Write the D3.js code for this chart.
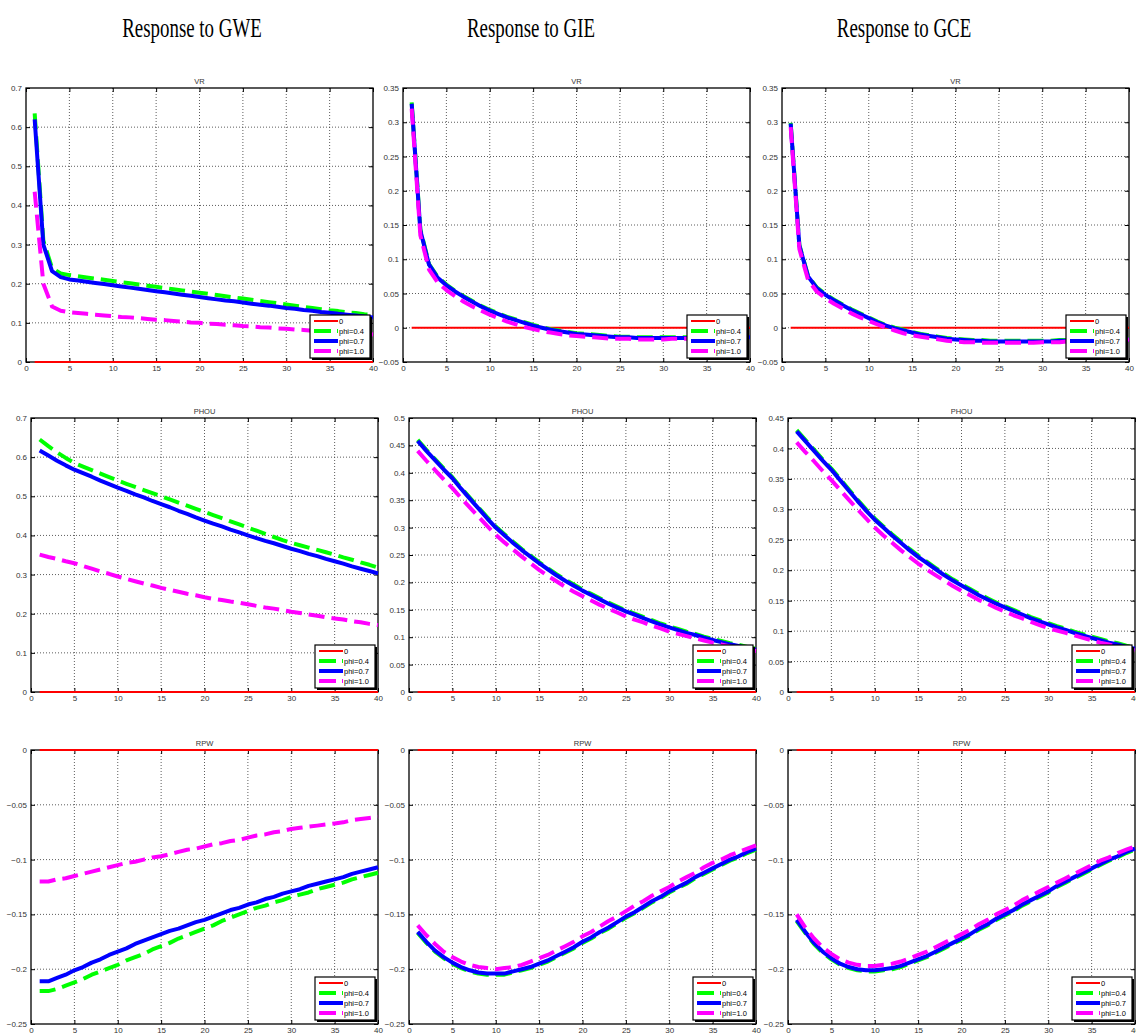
<!DOCTYPE html>
<html>
<head>
<meta charset="utf-8">
<script src="https://cdn.jsdelivr.net/npm/d3@7/dist/d3.min.js"></script>
<style>
  body { margin: 0; background: #fff; }
  svg { display: block; }
</style>
</head>
<body>
<div id="chart"></div>
<script>
// ---- data ----
var periods = d3.range(1, 41);
var columnTitles = ["Response to GWE", "Response to GIE", "Response to GCE"];
var rowTitles = ["VR", "PHOU", "RPW"];
var legendLabels = ["0", "phi=0.4", "phi=0.7", "phi=1.0"];
var xTicks = [0, 5, 10, 15, 20, 25, 30, 35, 40];

var yTicksVrGwe = [0, 0.1, 0.2, 0.3, 0.4, 0.5, 0.6, 0.7];
var yTicksVr = [-0.05, 0, 0.05, 0.1, 0.15, 0.2, 0.25, 0.3, 0.35];
var yTicksPhouGwe = [0, 0.1, 0.2, 0.3, 0.4, 0.5, 0.6, 0.7];
var yTicksPhouGie = [0, 0.05, 0.1, 0.15, 0.2, 0.25, 0.3, 0.35, 0.4, 0.45, 0.5];
var yTicksPhouGce = [0, 0.05, 0.1, 0.15, 0.2, 0.25, 0.3, 0.35, 0.4, 0.45];
var yTicksRpw = [-0.25, -0.2, -0.15, -0.1, -0.05, 0];

var zeroLine = [0,0,0,0,0,0,0,0,0,0,0,0,0,0,0,0,0,0,0,0,0,0,0,0,0,0,0,0,0,0,0,0,0,0,0,0,0,0,0,0];

// VR
var vrGwe04 = [0.635,0.31,0.24,0.226,0.222,0.219,0.216,0.213,0.210,0.207,0.204,0.201,0.198,0.195,0.192,0.189,0.186,0.183,0.180,0.177,0.174,0.171,0.168,0.165,0.162,0.159,0.156,0.153,0.150,0.147,0.144,0.141,0.138,0.135,0.132,0.130,0.127,0.125,0.122,0.120];
var vrGwe07 = [0.62,0.30,0.232,0.217,0.211,0.208,0.205,0.202,0.199,0.196,0.193,0.190,0.187,0.184,0.181,0.178,0.175,0.172,0.169,0.166,0.163,0.160,0.157,0.155,0.152,0.149,0.146,0.144,0.141,0.138,0.136,0.133,0.131,0.128,0.126,0.123,0.121,0.119,0.116,0.114];
var vrGwe10 = [0.435,0.20,0.142,0.131,0.127,0.125,0.123,0.121,0.119,0.117,0.115,0.114,0.112,0.110,0.108,0.107,0.105,0.103,0.101,0.100,0.098,0.097,0.095,0.094,0.092,0.091,0.089,0.088,0.086,0.085,0.083,0.082,0.080,0.079,0.078,0.076,0.075,0.073,0.072,0.070];

var vrGie04 = [0.329,0.144,0.093,0.074,0.063,0.054,0.046,0.039,0.032,0.026,0.021,0.016,0.012,0.008,0.004,0.001,-0.002,-0.004,-0.006,-0.008,-0.009,-0.010,-0.011,-0.012,-0.013,-0.013,-0.014,-0.014,-0.014,-0.014,-0.014,-0.014,-0.014,-0.014,-0.014,-0.014,-0.013,-0.013,-0.013,-0.013];
var vrGie07 = [0.327,0.142,0.092,0.073,0.062,0.053,0.045,0.038,0.031,0.025,0.020,0.015,0.011,0.007,0.003,0.000,-0.003,-0.005,-0.007,-0.009,-0.010,-0.011,-0.012,-0.013,-0.014,-0.014,-0.015,-0.015,-0.015,-0.015,-0.015,-0.015,-0.015,-0.015,-0.015,-0.015,-0.014,-0.014,-0.014,-0.014];
var vrGie10 = [0.320,0.135,0.085,0.066,0.055,0.046,0.038,0.031,0.025,0.019,0.014,0.009,0.005,0.001,-0.002,-0.005,-0.007,-0.009,-0.011,-0.012,-0.013,-0.014,-0.015,-0.016,-0.016,-0.016,-0.017,-0.017,-0.017,-0.017,-0.016,-0.016,-0.016,-0.016,-0.016,-0.015,-0.015,-0.015,-0.014,-0.014];

var vrGce04 = [0.299,0.121,0.076,0.059,0.049,0.041,0.034,0.027,0.021,0.015,0.009,0.004,0.000,-0.003,-0.006,-0.009,-0.011,-0.013,-0.015,-0.016,-0.017,-0.018,-0.018,-0.019,-0.019,-0.019,-0.019,-0.019,-0.019,-0.019,-0.019,-0.018,-0.018,-0.018,-0.017,-0.017,-0.017,-0.016,-0.016,-0.016];
var vrGce07 = [0.298,0.120,0.075,0.058,0.048,0.040,0.033,0.026,0.020,0.014,0.008,0.003,-0.001,-0.004,-0.007,-0.010,-0.012,-0.014,-0.016,-0.017,-0.018,-0.019,-0.019,-0.020,-0.020,-0.020,-0.020,-0.020,-0.020,-0.020,-0.020,-0.019,-0.019,-0.019,-0.018,-0.018,-0.018,-0.017,-0.017,-0.017];
var vrGce10 = [0.293,0.115,0.070,0.053,0.043,0.035,0.028,0.021,0.015,0.010,0.005,0.000,-0.004,-0.008,-0.011,-0.013,-0.015,-0.017,-0.019,-0.020,-0.021,-0.021,-0.022,-0.022,-0.022,-0.022,-0.022,-0.022,-0.022,-0.021,-0.021,-0.021,-0.020,-0.020,-0.020,-0.019,-0.019,-0.018,-0.018,-0.017];

// PHOU
var phouGwe04 = [0.645,0.628,0.612,0.598,0.585,0.576,0.567,0.558,0.549,0.540,0.532,0.524,0.516,0.508,0.500,0.492,0.484,0.476,0.468,0.460,0.452,0.444,0.436,0.428,0.420,0.412,0.404,0.396,0.388,0.381,0.375,0.369,0.363,0.357,0.351,0.344,0.338,0.331,0.325,0.318];
var phouGwe07 = [0.617,0.604,0.591,0.579,0.568,0.559,0.550,0.540,0.531,0.522,0.514,0.505,0.497,0.488,0.480,0.472,0.463,0.455,0.446,0.438,0.430,0.423,0.415,0.408,0.400,0.393,0.386,0.380,0.373,0.366,0.360,0.353,0.347,0.340,0.334,0.328,0.321,0.315,0.309,0.303];
var phouGwe10 = [0.351,0.345,0.340,0.334,0.329,0.322,0.315,0.308,0.302,0.295,0.289,0.283,0.277,0.272,0.266,0.261,0.256,0.251,0.247,0.242,0.238,0.235,0.231,0.228,0.224,0.220,0.216,0.213,0.209,0.205,0.202,0.198,0.195,0.191,0.188,0.185,0.181,0.178,0.174,0.171];

var phouGie04 = [0.460,0.442,0.425,0.408,0.392,0.373,0.355,0.337,0.319,0.302,0.288,0.274,0.261,0.249,0.237,0.226,0.215,0.205,0.196,0.187,0.179,0.171,0.163,0.156,0.149,0.143,0.137,0.131,0.125,0.120,0.115,0.110,0.106,0.101,0.097,0.093,0.089,0.086,0.082,0.079];
var phouGie07 = [0.458,0.440,0.423,0.406,0.390,0.371,0.353,0.335,0.317,0.300,0.286,0.272,0.259,0.247,0.235,0.224,0.213,0.203,0.194,0.185,0.177,0.169,0.161,0.154,0.147,0.141,0.135,0.129,0.123,0.118,0.113,0.108,0.104,0.099,0.095,0.091,0.087,0.084,0.080,0.077];
var phouGie10 = [0.440,0.422,0.405,0.388,0.372,0.354,0.337,0.320,0.303,0.287,0.273,0.260,0.247,0.235,0.223,0.212,0.202,0.192,0.183,0.175,0.167,0.159,0.152,0.145,0.138,0.132,0.127,0.121,0.116,0.110,0.106,0.102,0.098,0.094,0.090,0.087,0.083,0.080,0.077,0.075];

var phouGce04 = [0.430,0.414,0.398,0.382,0.367,0.350,0.333,0.316,0.300,0.285,0.272,0.259,0.247,0.235,0.224,0.214,0.204,0.194,0.185,0.177,0.169,0.161,0.154,0.147,0.141,0.135,0.129,0.123,0.118,0.113,0.108,0.104,0.099,0.095,0.091,0.087,0.083,0.080,0.076,0.073];
var phouGce07 = [0.428,0.412,0.396,0.380,0.365,0.348,0.331,0.314,0.298,0.283,0.270,0.257,0.245,0.233,0.222,0.212,0.202,0.192,0.183,0.175,0.167,0.159,0.152,0.145,0.139,0.133,0.127,0.121,0.116,0.111,0.106,0.102,0.097,0.093,0.089,0.085,0.081,0.078,0.074,0.071];
var phouGce10 = [0.410,0.394,0.379,0.363,0.348,0.332,0.316,0.300,0.285,0.270,0.257,0.245,0.233,0.222,0.211,0.201,0.192,0.183,0.174,0.166,0.159,0.151,0.145,0.138,0.132,0.126,0.121,0.115,0.110,0.105,0.101,0.097,0.093,0.089,0.085,0.081,0.078,0.074,0.071,0.068];

// RPW
var rpwGwe04 = [-0.220,-0.220,-0.218,-0.215,-0.212,-0.209,-0.205,-0.202,-0.199,-0.196,-0.192,-0.189,-0.186,-0.182,-0.179,-0.176,-0.172,-0.169,-0.166,-0.163,-0.160,-0.156,-0.153,-0.150,-0.147,-0.144,-0.142,-0.139,-0.137,-0.134,-0.132,-0.130,-0.127,-0.125,-0.123,-0.121,-0.118,-0.116,-0.114,-0.112];
var rpwGwe07 = [-0.211,-0.211,-0.208,-0.205,-0.201,-0.198,-0.194,-0.191,-0.187,-0.184,-0.181,-0.177,-0.174,-0.171,-0.168,-0.165,-0.163,-0.160,-0.157,-0.155,-0.152,-0.149,-0.146,-0.144,-0.141,-0.139,-0.136,-0.134,-0.131,-0.129,-0.127,-0.124,-0.122,-0.120,-0.118,-0.116,-0.113,-0.111,-0.109,-0.107];
var rpwGwe10 = [-0.120,-0.120,-0.118,-0.117,-0.115,-0.113,-0.111,-0.109,-0.107,-0.105,-0.103,-0.102,-0.100,-0.098,-0.097,-0.095,-0.093,-0.091,-0.090,-0.088,-0.086,-0.085,-0.083,-0.082,-0.080,-0.078,-0.077,-0.075,-0.074,-0.072,-0.071,-0.070,-0.069,-0.068,-0.067,-0.066,-0.064,-0.063,-0.062,-0.061];

var rpwGie04 = [-0.167,-0.176,-0.184,-0.190,-0.195,-0.199,-0.202,-0.204,-0.205,-0.205,-0.205,-0.203,-0.201,-0.199,-0.196,-0.193,-0.189,-0.185,-0.181,-0.176,-0.172,-0.167,-0.163,-0.158,-0.153,-0.149,-0.144,-0.139,-0.135,-0.130,-0.126,-0.122,-0.117,-0.113,-0.109,-0.105,-0.101,-0.098,-0.094,-0.091];
var rpwGie07 = [-0.166,-0.175,-0.183,-0.189,-0.194,-0.198,-0.201,-0.203,-0.204,-0.204,-0.204,-0.202,-0.200,-0.198,-0.195,-0.192,-0.188,-0.184,-0.180,-0.175,-0.171,-0.166,-0.162,-0.157,-0.152,-0.148,-0.143,-0.138,-0.134,-0.129,-0.125,-0.121,-0.116,-0.112,-0.108,-0.104,-0.100,-0.097,-0.093,-0.090];
var rpwGie10 = [-0.160,-0.169,-0.177,-0.184,-0.189,-0.193,-0.196,-0.198,-0.199,-0.200,-0.199,-0.198,-0.196,-0.193,-0.190,-0.187,-0.183,-0.179,-0.175,-0.170,-0.166,-0.161,-0.156,-0.152,-0.147,-0.142,-0.138,-0.133,-0.129,-0.125,-0.120,-0.116,-0.112,-0.107,-0.103,-0.100,-0.096,-0.093,-0.090,-0.087];

var rpwGce04 = [-0.156,-0.167,-0.177,-0.185,-0.191,-0.196,-0.199,-0.201,-0.202,-0.202,-0.201,-0.200,-0.198,-0.195,-0.192,-0.189,-0.185,-0.181,-0.177,-0.173,-0.169,-0.164,-0.160,-0.155,-0.151,-0.147,-0.142,-0.138,-0.134,-0.130,-0.125,-0.121,-0.117,-0.113,-0.109,-0.105,-0.101,-0.098,-0.094,-0.091];
var rpwGce07 = [-0.155,-0.166,-0.176,-0.184,-0.190,-0.195,-0.198,-0.200,-0.201,-0.201,-0.200,-0.199,-0.197,-0.194,-0.191,-0.188,-0.184,-0.180,-0.176,-0.172,-0.168,-0.163,-0.159,-0.154,-0.150,-0.146,-0.141,-0.137,-0.133,-0.129,-0.124,-0.120,-0.116,-0.112,-0.108,-0.104,-0.100,-0.097,-0.093,-0.090];
var rpwGce10 = [-0.150,-0.162,-0.172,-0.180,-0.186,-0.191,-0.194,-0.196,-0.197,-0.197,-0.196,-0.195,-0.193,-0.190,-0.187,-0.184,-0.180,-0.176,-0.172,-0.168,-0.164,-0.159,-0.155,-0.150,-0.146,-0.142,-0.137,-0.133,-0.129,-0.125,-0.121,-0.117,-0.113,-0.109,-0.105,-0.101,-0.098,-0.094,-0.091,-0.088];

// panel table built from the arrays above
var panels = [
  { row: 0, col: 0, title: rowTitles[0], yTicks: yTicksVrGwe, series: [zeroLine, vrGwe04, vrGwe07, vrGwe10] },
  { row: 0, col: 1, title: rowTitles[0], yTicks: yTicksVr, series: [zeroLine, vrGie04, vrGie07, vrGie10] },
  { row: 0, col: 2, title: rowTitles[0], yTicks: yTicksVr, series: [zeroLine, vrGce04, vrGce07, vrGce10] },
  { row: 1, col: 0, title: rowTitles[1], yTicks: yTicksPhouGwe, series: [zeroLine, phouGwe04, phouGwe07, phouGwe10] },
  { row: 1, col: 1, title: rowTitles[1], yTicks: yTicksPhouGie, series: [zeroLine, phouGie04, phouGie07, phouGie10] },
  { row: 1, col: 2, title: rowTitles[1], yTicks: yTicksPhouGce, series: [zeroLine, phouGce04, phouGce07, phouGce10] },
  { row: 2, col: 0, title: rowTitles[2], yTicks: yTicksRpw, series: [zeroLine, rpwGwe04, rpwGwe07, rpwGwe10] },
  { row: 2, col: 1, title: rowTitles[2], yTicks: yTicksRpw, series: [zeroLine, rpwGie04, rpwGie07, rpwGie10] },
  { row: 2, col: 2, title: rowTitles[2], yTicks: yTicksRpw, series: [zeroLine, rpwGce04, rpwGce07, rpwGce10] }
];

// ---- layout / style ----
var width = 1136, height = 1034;
var panelW = 347, panelH = 274;
var rowTops = [88, 418, 750];
var colLefts = [[26, 403, 782], [31, 409, 788], [31, 409, 788]];
var headerX = [192, 531, 904];
var headerSquash = 0.7;

var lineColors = ["#ff0000", "#00ff00", "#0000ff", "#ff00ff"];
var lineWidths = [2, 4, 4, 4];
var lineDash = [null, "16,7", null, "16,7"];

var fmt = function (v) {
  var s = String(+v.toFixed(2));
  return s.replace("-", "\u2212");
};

var svg = d3.select("#chart").append("svg")
  .attr("width", width)
  .attr("height", height);

/* column headers (the source figure is squeezed horizontally) */
svg.selectAll(".header")
  .data(columnTitles)
  .join("text")
  .attr("class", "header")
  .attr("transform", (d, i) => `translate(${headerX[i]},37) scale(${headerSquash},1)`)
  .attr("text-anchor", "middle")
  .attr("font-family", "Liberation Serif, Times New Roman, serif")
  .attr("font-size", 27)
  .attr("fill", "#000")
  .text(d => d);

panels.forEach(function (p) {
  var left = colLefts[p.row][p.col];
  var top = rowTops[p.row];

  var x = d3.scaleLinear().domain([0, 40]).range([0, panelW]);
  var y = d3.scaleLinear()
    .domain([p.yTicks[0], p.yTicks[p.yTicks.length - 1]])
    .range([panelH, 0]);

  var g = svg.append("g").attr("transform", `translate(${left},${top})`);

  // background
  g.append("rect").attr("width", panelW).attr("height", panelH).attr("fill", "#fff");

  // dotted grid
  var grid = g.append("g")
    .attr("stroke", "#333")
    .attr("stroke-width", 0.8)
    .attr("stroke-dasharray", "1,2");
  grid.selectAll(".gx")
    .data(xTicks.slice(1, -1))
    .join("line")
    .attr("x1", d => x(d)).attr("x2", d => x(d))
    .attr("y1", 0).attr("y2", panelH);
  grid.selectAll(".gy")
    .data(p.yTicks.slice(1, -1))
    .join("line")
    .attr("x1", 0).attr("x2", panelW)
    .attr("y1", d => y(d)).attr("y2", d => y(d));

  // axes (ticks inside, on both sides)
  var tickLen = 4;
  var xAxisB = d3.axisBottom(x).tickValues(xTicks).tickSizeInner(-tickLen).tickSizeOuter(0).tickPadding(3).tickFormat(fmt);
  var xAxisT = d3.axisTop(x).tickValues(xTicks).tickSizeInner(-tickLen).tickSizeOuter(0).tickFormat("");
  var yAxisL = d3.axisLeft(y).tickValues(p.yTicks).tickSizeInner(-tickLen).tickSizeOuter(0).tickPadding(4).tickFormat(fmt);
  var yAxisR = d3.axisRight(y).tickValues(p.yTicks).tickSizeInner(-tickLen).tickSizeOuter(0).tickFormat("");

  [g.append("g").attr("transform", `translate(0,${panelH})`).call(xAxisB),
   g.append("g").call(xAxisT),
   g.append("g").call(yAxisL),
   g.append("g").attr("transform", `translate(${panelW},0)`).call(yAxisR)
  ].forEach(function (a) {
    a.select(".domain").remove();
    a.selectAll("text")
      .attr("font-family", "Liberation Sans, Arial, sans-serif")
      .attr("font-size", 8)
      .attr("fill", "#333");
    a.selectAll("line").attr("stroke", "#000");
  });

  // frame
  g.append("rect")
    .attr("width", panelW).attr("height", panelH)
    .attr("fill", "none").attr("stroke", "#000").attr("stroke-width", 1.3);

  // title
  g.append("text")
    .attr("x", panelW / 2).attr("y", -4)
    .attr("text-anchor", "middle")
    .attr("font-family", "Liberation Sans, Arial, sans-serif")
    .attr("font-size", 7.5)
    .attr("fill", "#333")
    .text(p.title);

  // lines
  var line = d3.line()
    .x((d, i) => x(periods[i]))
    .y(d => y(d));

  g.selectAll(".series")
    .data(p.series)
    .join("path")
    .attr("class", "series")
    .attr("d", d => line(d))
    .attr("fill", "none")
    .attr("stroke", (d, i) => lineColors[i])
    .attr("stroke-width", (d, i) => lineWidths[i])
    .attr("stroke-dasharray", (d, i) => lineDash[i])
    .attr("stroke-linejoin", "round");

  // legend
  var lw = 60, lh = 43;
  var lg = g.append("g").attr("transform", `translate(${panelW - lw - 3},${panelH - lh - 4})`);
  lg.append("rect").attr("x", 2).attr("y", 2).attr("width", lw).attr("height", lh).attr("fill", "#000");
  lg.append("rect").attr("width", lw).attr("height", lh)
    .attr("fill", "#fff").attr("stroke", "#000").attr("stroke-width", 1.2);

  var items = lg.selectAll(".item")
    .data(legendLabels)
    .join("g")
    .attr("class", "item")
    .attr("transform", (d, i) => `translate(0,${6 + i * 10})`);
  items.append("line")
    .attr("x1", 4).attr("x2", 28)
    .attr("stroke", (d, i) => lineColors[i])
    .attr("stroke-width", (d, i) => lineWidths[i])
    .attr("stroke-dasharray", (d, i) => lineDash[i] ? "17,6" : null);
  items.append("text")
    .attr("x", 29).attr("y", 2.5)
    .attr("font-family", "Liberation Sans, Arial, sans-serif")
    .attr("font-size", 7.5)
    .attr("fill", "#000")
    .text(d => d);
});
</script>
</body>
</html>
